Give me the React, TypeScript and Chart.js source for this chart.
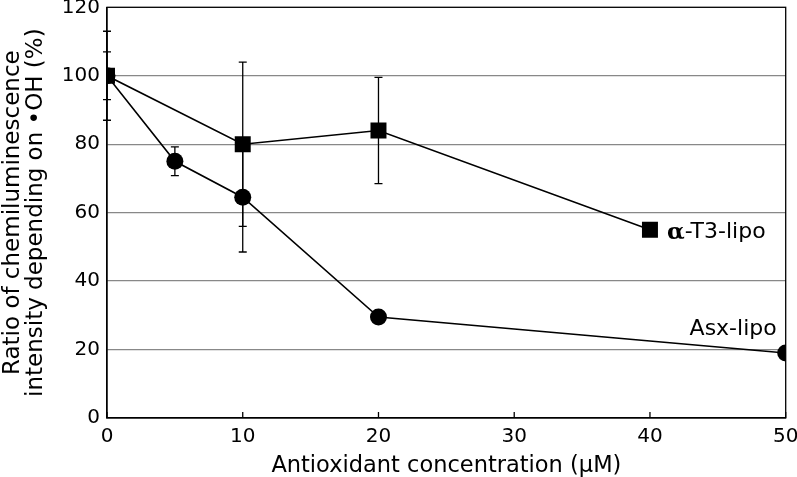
import React, { useEffect, useRef } from "react";
import { Chart, registerables } from "chart.js";

Chart.register(...registerables);

const circleX = [0, 5, 10, 20, 50];
const circleY = [100, 75, 64.5, 29.5, 19];
const circleErr = [7, 4.2, 16, 0, 0];

const squareX = [0, 10, 20, 40];
const squareY = [100, 80, 84, 55];
const squareErr = [13, 24, 15.5, 0];

const xTicks = [0, 10, 20, 30, 40, 50];
const yTicks = [0, 20, 40, 60, 80, 100, 120];

const FONT = "'DejaVu Sans', Verdana, sans-serif";

const extras = {
  id: "extras",
  afterDatasetsDraw(chart: any) {
    const { ctx, chartArea, scales } = chart;
    const xs = scales.x;
    const ys = scales.y;
    ctx.save();
    ctx.strokeStyle = "#000";
    ctx.lineWidth = 1.3;
    const drawErr = (xv: number[], yv: number[], ev: number[]) => {
      xv.forEach((x, i) => {
        const e = ev[i];
        if (!e) return;
        const px = xs.getPixelForValue(x);
        const top = ys.getPixelForValue(yv[i] + e);
        const bot = ys.getPixelForValue(yv[i] - e);
        ctx.beginPath();
        ctx.moveTo(px, top);
        ctx.lineTo(px, bot);
        ctx.moveTo(px - 4, top);
        ctx.lineTo(px + 4, top);
        ctx.moveTo(px - 4, bot);
        ctx.lineTo(px + 4, bot);
        ctx.stroke();
      });
    };
    drawErr(circleX, circleY, circleErr);
    drawErr(squareX, squareY, squareErr);
    ctx.strokeRect(chartArea.left, chartArea.top, chartArea.right - chartArea.left, chartArea.bottom - chartArea.top);
    xTicks.forEach((t) => {
      const px = xs.getPixelForValue(t);
      ctx.beginPath();
      ctx.moveTo(px, chartArea.bottom);
      ctx.lineTo(px, chartArea.bottom - 6);
      ctx.stroke();
    });
    ctx.fillStyle = "#000";
    ctx.textBaseline = "middle";
    const lx = xs.getPixelForValue(squareX[3]) + 17;
    const ly = ys.getPixelForValue(squareY[3]) + 3;
    ctx.font = "bold 23px 'DejaVu Serif', serif";
    ctx.textAlign = "left";
    ctx.fillText("α", lx, ly);
    const aw = ctx.measureText("α").width;
    ctx.font = "22px " + FONT;
    ctx.fillText("-T3-lipo", lx + aw, ly);
    ctx.textAlign = "right";
    ctx.fillText("Asx-lipo", xs.getPixelForValue(circleX[4]) - 9, ys.getPixelForValue(circleY[4]) - 24);
    ctx.restore();
  },
};

export default function App() {
  const ref = useRef<HTMLCanvasElement>(null);
  useEffect(() => {
    document.body.style.margin = "0";
    document.body.style.overflow = "hidden";
    const chart = new Chart(ref.current!, {
      type: "scatter",
      data: {
        datasets: [
          {
            label: "Asx-lipo",
            data: circleX.map((x, i) => ({ x, y: circleY[i] })),
            showLine: true,
            borderColor: "#000",
            backgroundColor: "#000",
            borderWidth: 1.6,
            pointStyle: "circle",
            pointRadius: 8.5,
            pointBorderWidth: 0,
          },
          {
            label: "α-T3-lipo",
            data: squareX.map((x, i) => ({ x, y: squareY[i] })),
            showLine: true,
            borderColor: "#000",
            backgroundColor: "#000",
            borderWidth: 1.6,
            pointStyle: "rect",
            pointRadius: 11.3,
            pointBorderWidth: 0,
          },
        ],
      },
      options: {
        animation: false,
        responsive: false,
        maintainAspectRatio: false,
        layout: { padding: { top: 0, right: 10, left: 0, bottom: 0 } },
        plugins: { legend: { display: false }, tooltip: { enabled: false } },
        scales: {
          x: {
            type: "linear",
            min: 0,
            max: 50,
            afterBuildTicks: (s: any) => {
              s.ticks = xTicks.map((v) => ({ value: v }));
            },
            afterFit: (s: any) => {
              s.height = 59;
              s.paddingLeft = 0;
              s.paddingRight = 0;
            },
            grid: { display: false, drawTicks: false },
            border: { display: true, color: "#000", width: 1.3 },
            ticks: { color: "#000", font: { family: FONT, size: 20 }, padding: 7 },
            title: {
              display: true,
              text: "Antioxidant concentration (μM)",
              color: "#000",
              font: { family: FONT, size: 22.5 },
              padding: { top: 0, bottom: -3 },
            },
          },
          y: {
            type: "linear",
            min: 0,
            max: 120,
            afterBuildTicks: (s: any) => {
              s.ticks = yTicks.map((v) => ({ value: v }));
            },
            afterFit: (s: any) => {
              s.width = 107;
              s.paddingTop = 0;
              s.paddingBottom = 0;
            },
            grid: {
              color: (c: any) => (c.tick && (c.tick.value === 0 || c.tick.value === 120) ? "rgba(0,0,0,0)" : "#888"),
              lineWidth: 1.3,
              drawTicks: false,
            },
            border: { display: true, color: "#000", width: 1.3 },
            ticks: { color: "#000", font: { family: FONT, size: 20 }, padding: 7 },
            title: {
              display: true,
              text: ["Ratio of chemiluminescence", "intensity depending on •OH (%)"],
              color: "#000",
              font: { family: FONT, size: 23, lineHeight: 1.0 },
              padding: { top: 2, bottom: 0 },
            },
          },
        },
      },
      plugins: [extras],
    } as any);
    return () => chart.destroy();
  }, []);
  return (
    <canvas
      ref={ref}
      width={797}
      height={481}
      style={{ display: "block", marginTop: -4 }}
    />
  );
}
